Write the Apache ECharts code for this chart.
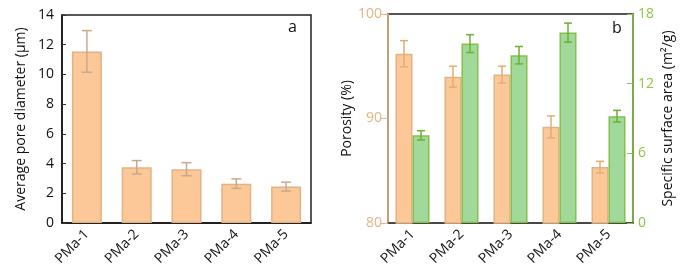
<!DOCTYPE html>
<html>
<head>
<meta charset="utf-8">
<script src="https://cdn.jsdelivr.net/npm/echarts@6/dist/echarts.min.js"></script>
<style>
  html, body { margin: 0; padding: 0; background: #fff; }
  #chart { width: 692px; height: 276px; }
</style>
</head>
<body>
<div id="chart"></div>
<script>
const samples = ["PMa-1", "PMa-2", "PMa-3", "PMa-4", "PMa-5"];
const poreDiameter = [11.55, 3.75, 3.62, 2.65, 2.45];
const poreDiameterErr = [1.4, 0.45, 0.44, 0.32, 0.3];
const porosity = [96.2, 94.0, 94.2, 89.2, 85.35];
const porosityErr = [1.25, 1.0, 0.8, 1.05, 0.55];
const surfaceArea = [7.55, 15.45, 14.45, 16.4, 9.2];
const surfaceAreaErr = [0.4, 0.77, 0.75, 0.82, 0.5];

const font = "Open Sans";
const orange = "#fdc898";
const orangeEdge = "#e2b283";
const green = "#a0d99a";
const greenEdge = "#84c04c";

function errorBars(offset, color, cap) {
  return function (params, api) {
    const x = api.value(0);
    const top = api.coord([x, api.value(1) + api.value(2)]);
    const bottom = api.coord([x, api.value(1) - api.value(2)]);
    const cx = top[0] + offset;
    const style = { stroke: color, lineWidth: 1.5 };
    return {
      type: "group",
      children: [
        { type: "line", shape: { x1: cx, y1: top[1], x2: cx, y2: bottom[1] }, style },
        { type: "line", shape: { x1: cx - cap, y1: top[1], x2: cx + cap, y2: top[1] }, style },
        { type: "line", shape: { x1: cx - cap, y1: bottom[1], x2: cx + cap, y2: bottom[1] }, style },
      ],
    };
  };
}

const errData = (vals, errs) => vals.map((v, i) => [i, v, errs[i]]);

const chart = echarts.init(document.getElementById("chart"));

const xLabel = {
  rotate: 45,
  margin: 9,
  fontFamily: font,
  fontSize: 14,
  color: "#111",
};

const option = {
  animation: false,
  grid: [
    { left: 62, right: 381, top: 15, bottom: 53, show: true, borderColor: "#222", borderWidth: 1.5 },
    { left: 388, right: 59, top: 14, bottom: 53, show: true, borderColor: "#555", borderWidth: 2 },
  ],
  xAxis: [
    {
      gridIndex: 0,
      type: "category",
      data: samples,
      axisLine: { lineStyle: { color: "#111", width: 1.5 } },
      axisTick: { alignWithLabel: true, inside: true, length: 5, lineStyle: { color: "#333" } },
      axisLabel: xLabel,
    },
    {
      gridIndex: 1,
      type: "category",
      data: samples,
      axisLine: { lineStyle: { color: "#444", width: 1.5 } },
      axisTick: { alignWithLabel: true, inside: true, length: 4, lineStyle: { color: "#333", width: 1.5 } },
      axisLabel: xLabel,
    },
  ],
  yAxis: [
    {
      gridIndex: 0,
      type: "value",
      min: 0,
      max: 14,
      interval: 2,
      name: "Average pore diameter (μm)",
      nameLocation: "middle",
      nameRotate: 90,
      nameGap: 34,
      nameTextStyle: { fontFamily: font, fontSize: 14, color: "#111" },
      splitLine: { show: false },
      axisLine: { show: true, lineStyle: { color: "#111", width: 1.5 } },
      axisTick: { show: true, inside: true, length: 4, lineStyle: { color: "#333" } },
      axisLabel: { margin: 8, fontFamily: font, fontSize: 14, color: "#111" },
    },
    {
      gridIndex: 1,
      type: "value",
      min: 80,
      max: 100,
      interval: 10,
      name: "Porosity (%)",
      nameLocation: "middle",
      nameRotate: 90,
      nameGap: 34,
      nameTextStyle: { fontFamily: font, fontSize: 14, color: "#111" },
      splitLine: { show: false },
      axisLine: { show: true, lineStyle: { color: "#e4b987", width: 1.5 } },
      axisTick: { show: true, length: 7, lineStyle: { color: "#e4b987" } },
      axisLabel: { margin: 6, fontFamily: font, fontSize: 14, color: "#e3b580" },
    },
    {
      gridIndex: 1,
      type: "value",
      position: "right",
      min: 0,
      max: 18,
      interval: 6,
      name: "Specific surface area (m²/g)",
      nameLocation: "middle",
      nameRotate: 90,
      nameGap: 28,
      nameTextStyle: { fontFamily: font, fontSize: 14, color: "#111" },
      splitLine: { show: false },
      axisLine: { show: true, lineStyle: { color: "#8cc44a", width: 1.5 } },
      axisTick: { show: true, inside: true, length: 6, lineStyle: { color: "#8cc44a" } },
      axisLabel: { margin: 5, fontFamily: font, fontSize: 14, color: "#8dc63f" },
    },
  ],
  graphic: [
    { type: "text", left: 288, top: 19, style: { text: "a", font: "16px " + font, fill: "#111" } },
    { type: "text", left: 612, top: 20, style: { text: "b", font: "16px " + font, fill: "#111" } },
  ],
  series: [
    {
      type: "bar",
      xAxisIndex: 0,
      yAxisIndex: 0,
      data: poreDiameter,
      barWidth: 30,
      itemStyle: { color: orange, borderColor: orangeEdge, borderWidth: 1.5 },
    },
    {
      type: "custom",
      xAxisIndex: 0,
      yAxisIndex: 0,
      data: errData(poreDiameter, poreDiameterErr),
      renderItem: errorBars(0, "#c9a98c", 5),
      z: 5,
    },
    {
      type: "bar",
      xAxisIndex: 1,
      yAxisIndex: 1,
      data: porosity,
      barWidth: 17,
      barGap: "0%",
      itemStyle: { color: orange, borderColor: orangeEdge, borderWidth: 1.5 },
    },
    {
      type: "bar",
      xAxisIndex: 1,
      yAxisIndex: 2,
      data: surfaceArea,
      barWidth: 17,
      barGap: "0%",
      itemStyle: { color: green, borderColor: greenEdge, borderWidth: 1.5 },
    },
    {
      type: "custom",
      xAxisIndex: 1,
      yAxisIndex: 1,
      data: errData(porosity, porosityErr),
      renderItem: errorBars(-8.5, "#e3ad75", 4),
      z: 5,
    },
    {
      type: "custom",
      xAxisIndex: 1,
      yAxisIndex: 2,
      data: errData(surfaceArea, surfaceAreaErr),
      renderItem: errorBars(8.5, "#6fae32", 4),
      z: 5,
    },
  ],
};

chart.setOption(option);
</script>
</body>
</html>
